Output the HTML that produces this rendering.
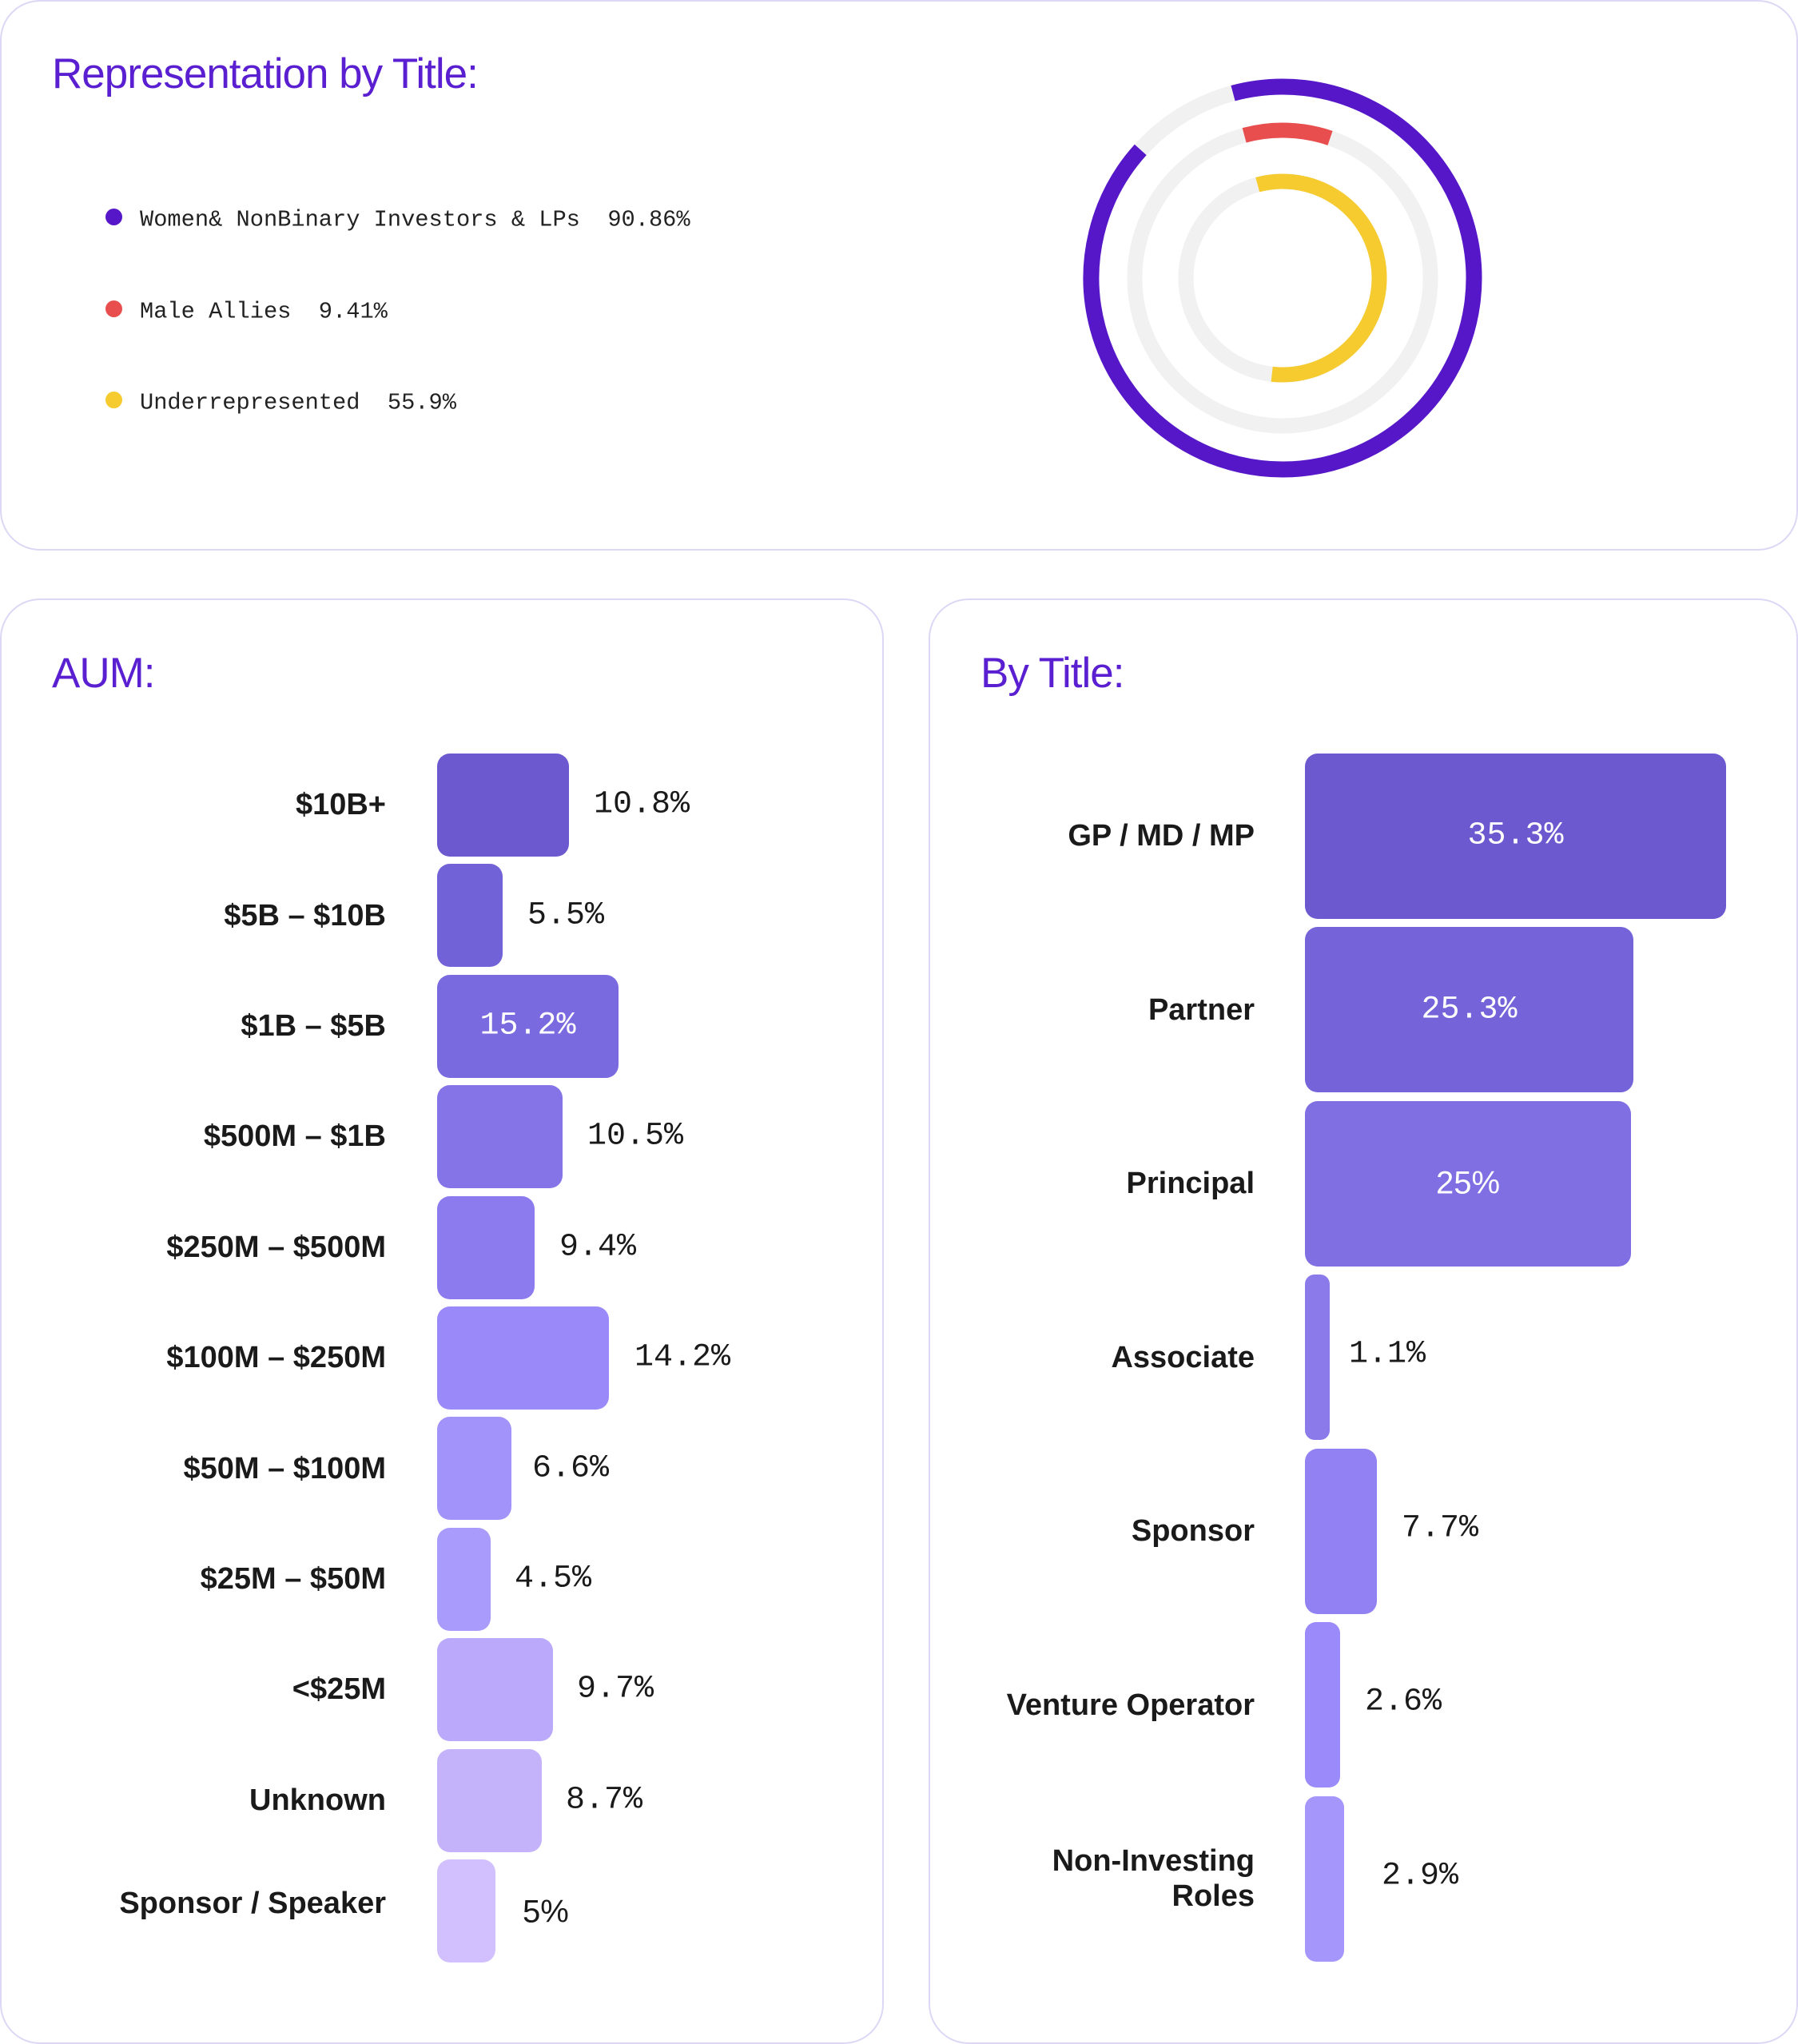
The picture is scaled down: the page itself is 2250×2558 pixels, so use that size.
<!DOCTYPE html>
<html><head><meta charset="utf-8"><style>
*{margin:0;padding:0;box-sizing:border-box}
body{width:2250px;height:2558px;background:#fff;position:relative;overflow:hidden;font-family:"Liberation Sans",sans-serif}
.card{position:absolute;border:2px solid #ddd7f5;border-radius:50px;background:#fff}
.t{position:absolute;color:#5a1fd0;font-size:53px;letter-spacing:-1px;white-space:nowrap}
.leg{position:absolute;font-family:"Liberation Mono",monospace;font-size:28.7px;color:#222;white-space:nowrap;transform:translateY(-50%)}
.dot{position:absolute;width:21px;height:21px;border-radius:50%}
.bar{position:absolute;border-radius:16px}
.lab{position:absolute;font-weight:bold;font-size:38px;color:#1a1a1a;text-align:right;white-space:nowrap;transform:translateY(-50%);line-height:44px}
.val{position:absolute;font-family:"Liberation Mono",monospace;font-size:40px;color:#1a1a1a;white-space:nowrap;transform:translateY(-50%)}
.in{color:#fff;text-align:center}
</style></head><body>
<div class="card" style="left:0;top:0;width:2250px;height:689px"></div>
<div class="card" style="left:0;top:749px;width:1106px;height:1809px"></div>
<div class="card" style="left:1162px;top:749px;width:1088px;height:1809px"></div>

<div class="t" style="left:65px;top:62px">Representation by Title:</div>
<div class="dot" style="left:132px;top:261px;background:#5617c9"></div>
<div class="leg" style="left:175px;top:275px">Women&amp; NonBinary Investors &amp; LPs&nbsp;&nbsp;90.86%</div>
<div class="dot" style="left:132px;top:376px;background:#e84e4e"></div>
<div class="leg" style="left:175px;top:390px">Male Allies&nbsp;&nbsp;9.41%</div>
<div class="dot" style="left:132px;top:490px;background:#f5cb30"></div>
<div class="leg" style="left:175px;top:504px">Underrepresented&nbsp;&nbsp;55.9%</div>

<svg style="position:absolute;left:0;top:0" width="2250" height="689">
<g transform="translate(1605,348)">
<circle r="239.5" fill="none" stroke="#f1f1f1" stroke-width="20"/>
<circle r="185" fill="none" stroke="#f1f1f1" stroke-width="19"/>
<circle r="121" fill="none" stroke="#f1f1f1" stroke-width="19"/>
<g transform="rotate(-105)">
<circle r="239.5" fill="none" stroke="#5617c9" stroke-width="20" stroke-dasharray="1367 2000"/>
<circle r="185" fill="none" stroke="#e84e4e" stroke-width="19" stroke-dasharray="109 2000"/>
<circle r="121" fill="none" stroke="#f5cb30" stroke-width="19" stroke-dasharray="425 2000"/>
</g></g></svg>

<div class="t" style="left:65px;top:812px">AUM:</div>
<div class="t" style="left:1227px;top:812px">By Title:</div>

<div class="bar" style="left:547px;top:943px;width:165px;height:129px;background:#6c59cf"></div>
<div class="bar" style="left:547px;top:1081px;width:82px;height:129px;background:#7262d8"></div>
<div class="bar" style="left:547px;top:1220px;width:227px;height:129px;background:#7a6ae0"></div>
<div class="bar" style="left:547px;top:1358px;width:157px;height:129px;background:#8574e8"></div>
<div class="bar" style="left:547px;top:1497px;width:122px;height:129px;background:#8b7bee"></div>
<div class="bar" style="left:547px;top:1635px;width:215px;height:129px;background:#9a89f8"></div>
<div class="bar" style="left:547px;top:1773px;width:93px;height:129px;background:#a293fa"></div>
<div class="bar" style="left:547px;top:1912px;width:67px;height:129px;background:#a99bfb"></div>
<div class="bar" style="left:547px;top:2050px;width:145px;height:129px;background:#bba9fc"></div>
<div class="bar" style="left:547px;top:2189px;width:131px;height:129px;background:#c4b3fa"></div>
<div class="bar" style="left:547px;top:2327px;width:73px;height:129px;background:#d1c0fd"></div>

<div class="lab" style="right:1767px;top:1007px">$10B+</div>
<div class="lab" style="right:1767px;top:1146px">$5B – $10B</div>
<div class="lab" style="right:1767px;top:1284px">$1B – $5B</div>
<div class="lab" style="right:1767px;top:1422px">$500M – $1B</div>
<div class="lab" style="right:1767px;top:1561px">$250M – $500M</div>
<div class="lab" style="right:1767px;top:1699px">$100M – $250M</div>
<div class="lab" style="right:1767px;top:1838px">$50M – $100M</div>
<div class="lab" style="right:1767px;top:1976px">$25M – $50M</div>
<div class="lab" style="right:1767px;top:2114px">&lt;$25M</div>
<div class="lab" style="right:1767px;top:2253px">Unknown</div>
<div class="lab" style="right:1767px;top:2382px">Sponsor / Speaker</div>

<div class="val" style="left:743px;top:1007px">10.8%</div>
<div class="val" style="left:660px;top:1146px">5.5%</div>
<div class="val in" style="left:547px;width:227px;top:1284px">15.2%</div>
<div class="val" style="left:735px;top:1422px">10.5%</div>
<div class="val" style="left:700px;top:1561px">9.4%</div>
<div class="val" style="left:794px;top:1699px">14.2%</div>
<div class="val" style="left:666px;top:1838px">6.6%</div>
<div class="val" style="left:644px;top:1976px">4.5%</div>
<div class="val" style="left:722px;top:2114px">9.7%</div>
<div class="val" style="left:708px;top:2253px">8.7%</div>
<div class="val" style="left:654px;top:2393px;font-family:'Liberation Sans',sans-serif">5%</div>

<div class="bar" style="left:1633px;top:943px;width:527px;height:207px;background:#6c59cf"></div>
<div class="bar" style="left:1633px;top:1160px;width:411px;height:207px;background:#7564d9"></div>
<div class="bar" style="left:1633px;top:1378px;width:408px;height:207px;background:#806ee3"></div>
<div class="bar" style="left:1633px;top:1595px;width:31px;height:207px;background:#8a7aea;border-radius:12px"></div>
<div class="bar" style="left:1633px;top:1813px;width:90px;height:207px;background:#9281f3"></div>
<div class="bar" style="left:1633px;top:2030px;width:44px;height:207px;background:#9b8afa;border-radius:14px"></div>
<div class="bar" style="left:1633px;top:2248px;width:49px;height:207px;background:#a596fb;border-radius:14px"></div>

<div class="lab" style="right:680px;top:1046px">GP / MD / MP</div>
<div class="lab" style="right:680px;top:1264px">Partner</div>
<div class="lab" style="right:680px;top:1481px">Principal</div>
<div class="lab" style="right:680px;top:1699px">Associate</div>
<div class="lab" style="right:680px;top:1916px">Sponsor</div>
<div class="lab" style="right:680px;top:2134px">Venture Operator</div>
<div class="lab" style="right:680px;top:2351px">Non-Investing<br>Roles</div>

<div class="val in" style="left:1633px;width:527px;top:1046px">35.3%</div>
<div class="val in" style="left:1633px;width:411px;top:1264px">25.3%</div>
<div class="val in" style="left:1633px;width:408px;top:1481px;font-family:'Liberation Sans',sans-serif">25%</div>
<div class="val" style="left:1688px;top:1695px">1.1%</div>
<div class="val" style="left:1754px;top:1913px">7.7%</div>
<div class="val" style="left:1708px;top:2130px">2.6%</div>
<div class="val" style="left:1729px;top:2348px">2.9%</div>
</body></html>
